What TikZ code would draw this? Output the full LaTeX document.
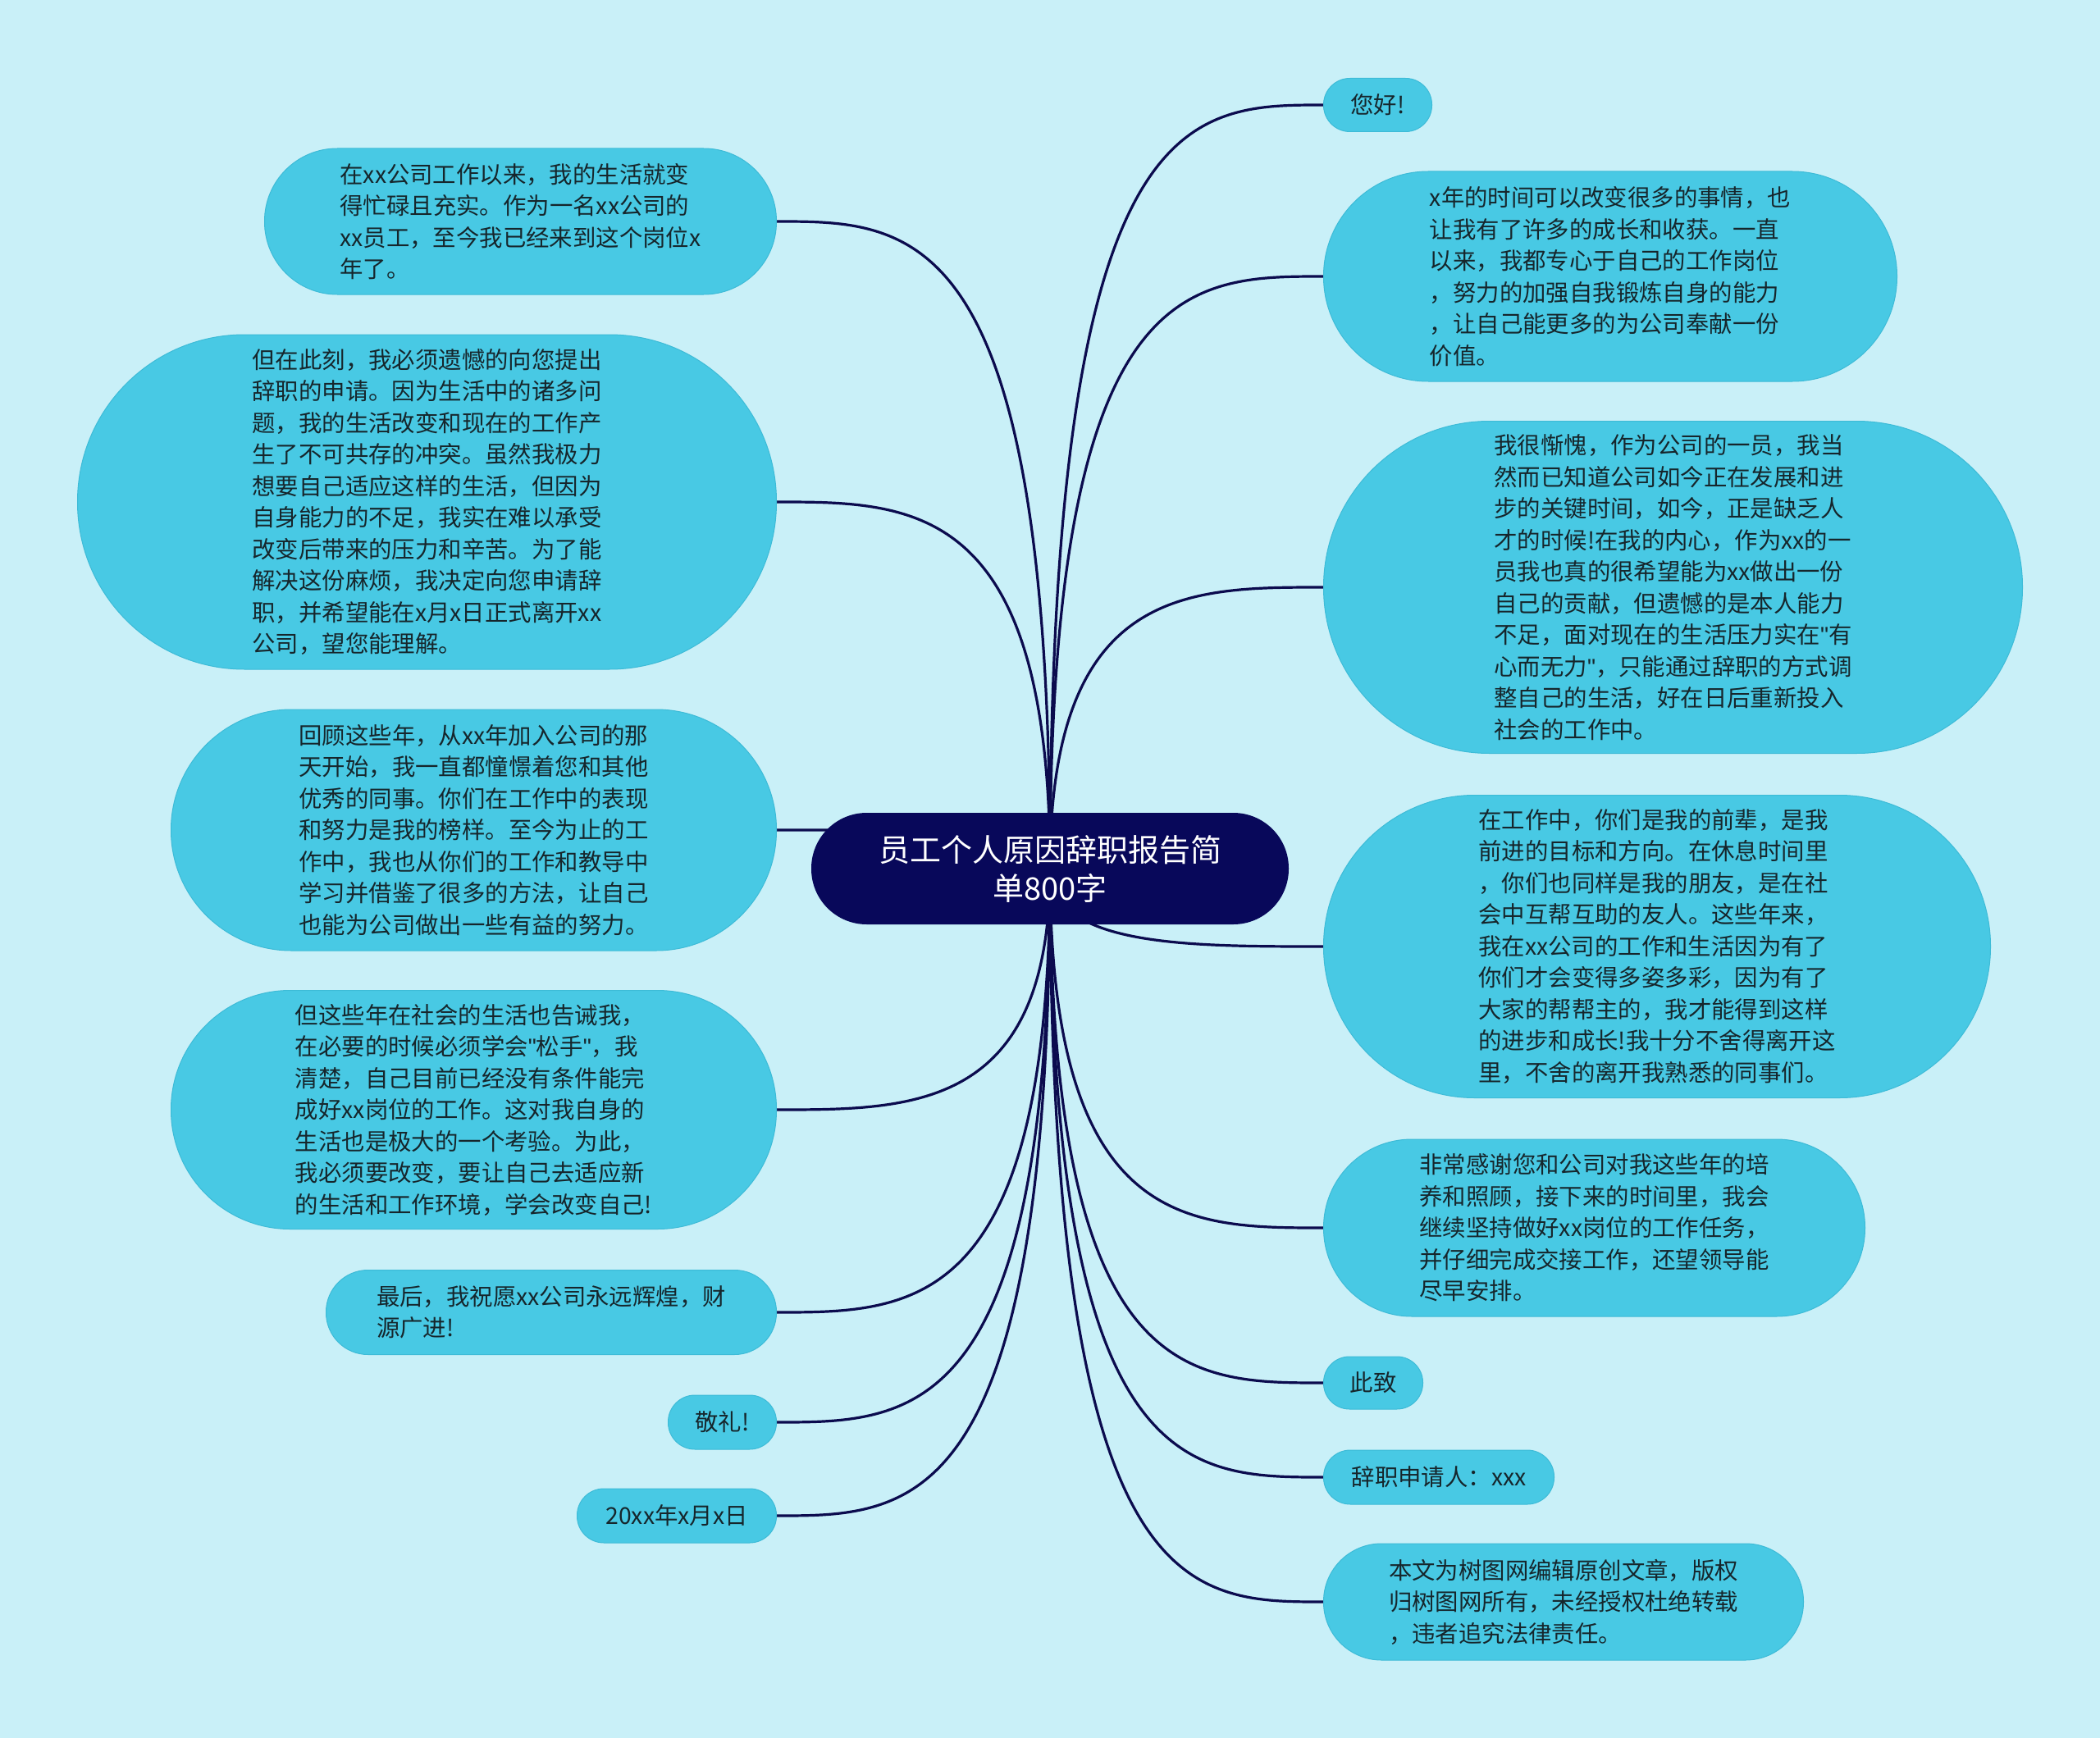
\documentclass[tikz,border=0pt]{standalone}
\usepackage{fontspec}
\setmainfont{Noto Sans CJK SC}[Ligatures=ResetAll]
\newfontfamily\quotefont{Liberation Sans}[Ligatures=ResetAll]
\usetikzlibrary{calc,backgrounds}
\pgfdeclarelayer{canvas}
\pgfsetlayers{canvas,background,main}
\definecolor{pageFill}{HTML}{C9F0F8}
\definecolor{topicFill}{HTML}{48C9E4}
\definecolor{topicDraw}{HTML}{3DBBD7}
\definecolor{topicText}{HTML}{16262C}
\definecolor{rootFill}{HTML}{08085A}
\definecolor{linkDraw}{HTML}{0B0B4E}
\newcommand{\qmark}{{\quotefont\char34}}
\tikzset{
  pill/.style 2 args={draw=topicDraw, fill=topicFill, line width=0.5pt, text=topicText,
                      align=left, inner sep=0pt, font=\fontsize{14.2}{19.25}\selectfont,
                      minimum width=#1, minimum height=#2, rounded corners=#2/2-0.2pt},
  root/.style ={fill=rootFill, text=white, align=center, inner sep=0pt,
                font=\fontsize{19}{23.5}\selectfont,
                minimum width=291pt, minimum height=68pt, rounded corners=33.8pt},
  link/.style ={draw=linkDraw, line width=1.6pt},
}

\begin{document}
\begin{tikzpicture}[x=1pt, y=-1pt]
  \begin{pgfonlayer}{canvas}
    \fill[pageFill] (0,0) rectangle (1280,1059.5);
  \end{pgfonlayer}

  % central topic
  \node[root] (c) at (640,529.5) {员工个人原因辞职报告简\\单800字};

  % left branch
  \node[pill={312pt}{89pt}, anchor=east] (l1) at (473.5,135)
    {在xx公司工作以来，我的生活就变\\
     得忙碌且充实。作为一名xx公司的\\
     xx员工，至今我已经来到这个岗位x\\
     年了。};
  \node[pill={426pt}{204pt}, anchor=east] (l2) at (473.5,306)
    {但在此刻，我必须遗憾的向您提出\\
     辞职的申请。因为生活中的诸多问\\
     题，我的生活改变和现在的工作产\\
     生了不可共存的冲突。虽然我极力\\
     想要自己适应这样的生活，但因为\\
     自身能力的不足，我实在难以承受\\
     改变后带来的压力和辛苦。为了能\\
     解决这份麻烦，我决定向您申请辞\\
     职，并希望能在x月x日正式离开xx\\
     公司，望您能理解。};
  \node[pill={369pt}{147pt}, anchor=east] (l3) at (473.5,506)
    {回顾这些年，从xx年加入公司的那\\
     天开始，我一直都憧憬着您和其他\\
     优秀的同事。你们在工作中的表现\\
     和努力是我的榜样。至今为止的工\\
     作中，我也从你们的工作和教导中\\
     学习并借鉴了很多的方法，让自己\\
     也能为公司做出一些有益的努力。};
  \node[pill={369pt}{145.5pt}, anchor=east] (l4) at (473.5,676.5)
    {但这些年在社会的生活也告诫我，\\
     在必要的时候必须学会\qmark 松手\qmark ，我\\
     清楚，自己目前已经没有条件能完\\
     成好xx岗位的工作。这对我自身的\\
     生活也是极大的一个考验。为此，\\
     我必须要改变，要让自己去适应新\\
     的生活和工作环境，学会改变自己!};
  \node[pill={274.5pt}{51.5pt}, anchor=east] (l5) at (473.5,800)
    {最后，我祝愿xx公司永远辉煌，财\\
     源广进!};
  \node[pill={66pt}{33pt}, anchor=east] (l6) at (473.5,867) {敬礼!};
  \node[pill={121.5pt}{33pt}, anchor=east] (l7) at (473.5,924) {20xx年x月x日};

  % right branch
  \node[pill={66pt}{32.5pt}, anchor=west] (r1) at (806.5,64) {您好!};
  \node[pill={349.5pt}{128pt}, anchor=west] (r2) at (806.5,168.5)
    {x年的时间可以改变很多的事情，也\\
     让我有了许多的成长和收获。一直\\
     以来，我都专心于自己的工作岗位\\
     ，努力的加强自我锻炼自身的能力\\
     ，让自己能更多的为公司奉献一份\\
     价值。};
  \node[pill={426pt}{202.5pt}, anchor=west] (r3) at (806.5,358)
    {我很惭愧，作为公司的一员，我当\\
     然而已知道公司如今正在发展和进\\
     步的关键时间，如今，正是缺乏人\\
     才的时候!在我的内心，作为xx的一\\
     员我也真的很希望能为xx做出一份\\
     自己的贡献，但遗憾的是本人能力\\
     不足，面对现在的生活压力实在\qmark 有\\
     心而无力\qmark ，只能通过辞职的方式调\\
     整自己的生活，好在日后重新投入\\
     社会的工作中。};
  \node[pill={406.5pt}{184.5pt}, anchor=west] (r4) at (806.5,577)
    {在工作中，你们是我的前辈，是我\\
     前进的目标和方向。在休息时间里\\
     ，你们也同样是我的朋友，是在社\\
     会中互帮互助的友人。这些年来，\\
     我在xx公司的工作和生活因为有了\\
     你们才会变得多姿多彩，因为有了\\
     大家的帮帮主的，我才能得到这样\\
     的进步和成长!我十分不舍得离开这\\
     里，不舍的离开我熟悉的同事们。};
  \node[pill={330pt}{108pt}, anchor=west] (r5) at (806.5,748.5)
    {非常感谢您和公司对我这些年的培\\
     养和照顾，接下来的时间里，我会\\
     继续坚持做好xx岗位的工作任务，\\
     并仔细完成交接工作，还望领导能\\
     尽早安排。};
  \node[pill={60.5pt}{32pt}, anchor=west] (r6) at (806.5,843) {此致};
  \node[pill={140.5pt}{33pt}, anchor=west] (r7) at (806.5,900.5) {辞职申请人：xxx};
  \node[pill={292.5pt}{71pt}, anchor=west] (r8) at (806.5,976.5)
    {本文为树图网编辑原创文章，版权\\
     归树图网所有，未经授权杜绝转载\\
     ，违者追究法律责任。};

  % curved links, behind the boxes
  \begin{scope}[on background layer]
    \foreach \i in {1,...,7}
      \draw[link] (c.center) .. controls (c.center |- l\i.east)
        and ($(c.center |- l\i.east)!0.5!(l\i.east)$) .. (l\i.east);
    \foreach \i in {1,...,8}
      \draw[link] (c.center) .. controls (c.center |- r\i.west)
        and ($(c.center |- r\i.west)!0.5!(r\i.west)$) .. (r\i.west);
  \end{scope}
\end{tikzpicture}
\end{document}
